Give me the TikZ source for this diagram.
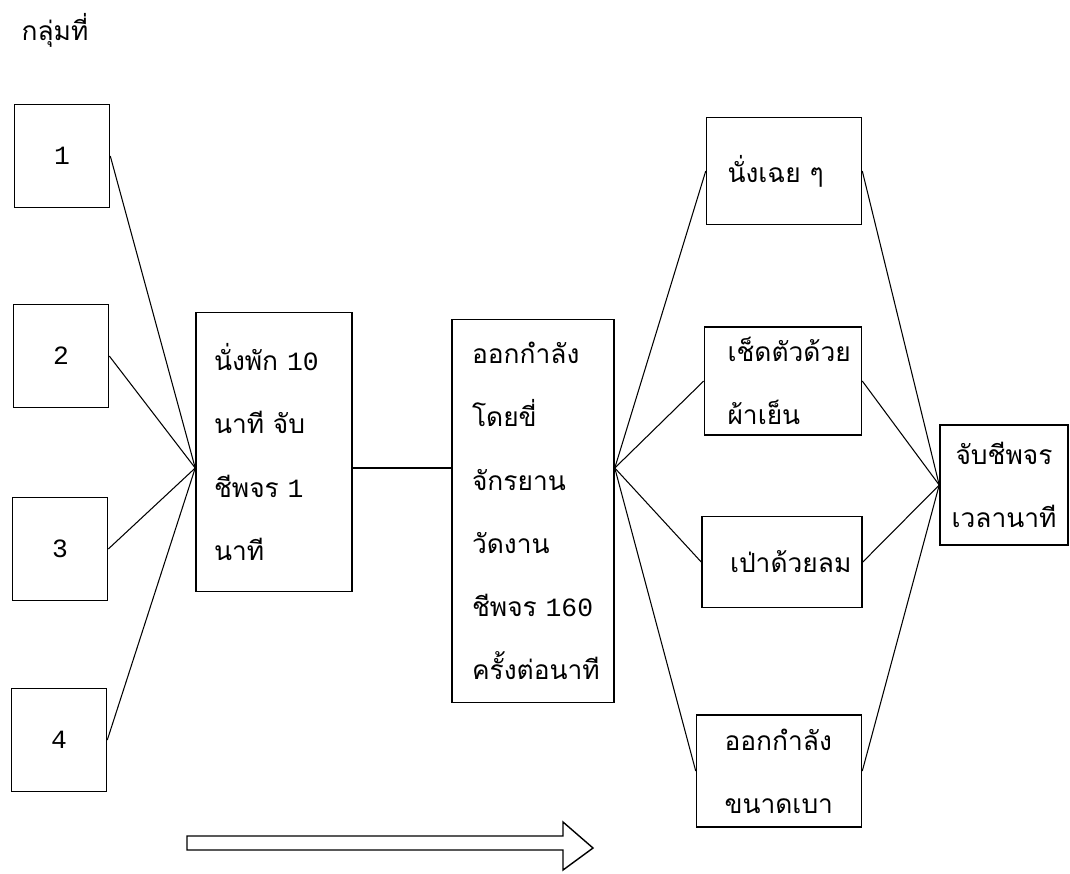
\documentclass[tikz,border=0pt]{standalone}
\usepackage{fontspec}
\newfontfamily\thaifont[Script=Thai, WordSpace=2]{Loma}
\newfontfamily\numfont{Liberation Mono}
\usetikzlibrary{positioning}

\begin{document}
\begin{tikzpicture}[x=0.02cm, y=-0.02cm,
        every node/.style={font=\thaifont\fontsize{15}{36}\selectfont},
        group/.style={rectangle, draw, line width=0.9pt, minimum width=1.9cm, minimum height=2.06cm, font=\numfont\fontsize{15}{36}\selectfont},
        stage/.style={rectangle, draw, line width=0.9pt, align=left, inner ysep=0pt},
        line/.style={-, line width=0.6pt}
    ]
        \useasboundingbox (0,0) rectangle (1070,873);
        \node (title) at (55,30) {กลุ่มที่};

        % Groups
        \node[group] (g1) at (62,156) {1};
        \node[group] (g2) at (61,356) {2};
        \node[group] (g3) at (60,549) {3};
        \node[group] (g4) at (59,740) {4};

        % Rest and exercise
        \node[stage, text width=2.4cm, inner xsep=0.36cm, minimum height=5.58cm] (rest) at (274,452) {นั่งพัก {\numfont 10}\\นาที จับ\\ชีพจร {\numfont 1}\\นาที};
        \node[stage, text width=2.44cm, inner xsep=0.4cm, minimum height=7.66cm] (ride) at (533,511) {ออกกำลัง\\โดยขี่\\จักรยาน\\วัดงาน\\ชีพจร {\numfont 160}\\ครั้งต่อนาที};

        % Recovery
        \node[stage, text width=2.26cm, inner xsep=0.42cm, minimum height=2.14cm] (sit) at (784,171) {นั่งเฉย ๆ};
        \node[stage, text width=2.22cm, inner xsep=0.46cm, minimum height=2.16cm] (wipe) at (783,381) {เช็ดตัวด้วย\\ผ้าเย็น};
        \node[stage, text width=2.08cm, inner xsep=0.56cm, minimum height=1.82cm] (blow) at (782,562) {เป่าด้วยลม};
        \node[stage, text width=2.18cm, inner xsep=0.56cm, minimum height=2.24cm] (light) at (779,771) {ออกกำลัง\\ขนาดเบา};
        \node[stage, align=center, text width=2.36cm, inner xsep=0.1cm, minimum height=2.4cm] (pulse) at (1004,485) {จับชีพจร\\เวลานาที};

        \coordinate (hub) at (196,468);
        \foreach \g in {g1,g2,g3,g4}
            \draw[line] (\g.east) -- (rest.west |- hub);
        \draw[line] (rest.east |- hub) -- (ride.west |- hub);
        \foreach \c in {sit,wipe,blow,light} {
            \draw[line] (ride.east |- hub) -- (\c.west);
            \draw[line] (\c.east) -- (pulse.west);
        }

        % Time arrow
        \draw[line width=0.8pt] (187,836) -- (563,836) -- (563,822) -- (593,848) -- (563,870) -- (563,850) -- (187,850) -- cycle;
    \end{tikzpicture}
\end{document}
